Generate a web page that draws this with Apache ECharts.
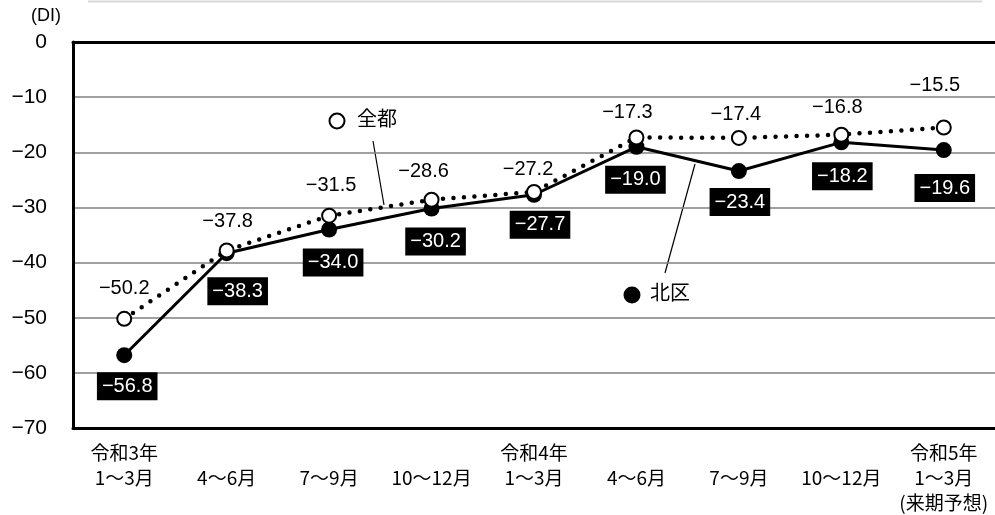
<!DOCTYPE html>
<html>
<head>
<meta charset="utf-8">
<script src="https://cdn.jsdelivr.net/npm/echarts@6/dist/echarts.min.js"></script>
<style>
  html, body { margin: 0; padding: 0; background: #fff; }
  #chart { width: 995px; height: 515px; }
</style>
</head>
<body>
<div id="chart"></div>
<script>
// Quarter labels along the bottom axis
const quarters = [
  '令和3年\n1～3月', '\n4～6月', '\n7～9月', '\n10～12月',
  '令和4年\n1～3月', '\n4～6月', '\n7～9月', '\n10～12月',
  '令和5年\n1～3月\n(来期予想)'
];
// DI values: Tokyo overall (全都) and Kita ward (北区)
const zento = [-50.2, -37.8, -31.5, -28.6, -27.2, -17.3, -17.4, -16.8, -15.5];
const kita  = [-56.8, -38.3, -34.0, -30.2, -27.7, -19.0, -23.4, -18.2, -19.6];
// Value axis ticks
const yMin = -70, yMax = 0, yStep = 10;

// Label nudges (pixels) so value labels avoid the lines
const zentoLabelShift = [[0,-30],[1,-29],[2,-30],[-8,-28],[-6,-23],[-9,-25],[-3,-23],[-4,-27],[-9,-42]];
const kitaLabelShift  = [[3,31],[11,38],[4,33],[4,33],[6,30],[-1,33],[1,31],[1,34],[1,38]];

const numFont = '"Liberation Sans", Arial, sans-serif';
const jpFont = '"Noto Sans CJK JP", sans-serif';
const fmt = v => String(v.toFixed(1)).replace('-', '\u2212');

const chart = echarts.init(document.getElementById('chart'), null, { renderer: 'canvas' });

chart.setOption({
  animation: false,
  backgroundColor: '#fff',
  grid: { left: 73, right: 0, top: 42, bottom: 87, containLabel: false },
  xAxis: [{
    type: 'category',
    data: quarters,
    position: 'bottom',
    boundaryGap: true,
    axisLine: { show: true, onZero: false, lineStyle: { color: '#000', width: 3 } },
    axisTick: { show: false },
    axisLabel: {
      interval: 0, margin: 12, color: '#000',
      fontFamily: jpFont, fontSize: 19, lineHeight: 25
    }
  }, {
    type: 'category',
    data: quarters,
    position: 'top',
    axisLine: { show: true, onZero: false, lineStyle: { color: '#000', width: 3 } },
    axisTick: { show: false },
    axisLabel: { show: false }
  }],
  yAxis: {
    type: 'value',
    min: yMin, max: yMax, interval: yStep,
    axisLine: { show: true, lineStyle: { color: '#000', width: 3 } },
    axisTick: { show: false },
    splitLine: { show: true, lineStyle: { color: '#808080', width: 1.5 } },
    axisLabel: {
      margin: 26, color: '#000', fontSize: 21,
      fontFamily: numFont,
      formatter: v => String(v).replace('-', '\u2212')
    }
  },
  series: [{
    name: '北区',
    type: 'line',
    data: kita.map((v, i) => ({
      value: v,
      label: { offset: kitaLabelShift[i] }
    })),
    symbol: 'circle',
    symbolSize: 16,
    itemStyle: { color: '#000', borderColor: '#000', borderWidth: 0 },
    lineStyle: { color: '#000', width: 3 },
    label: {
      show: true, position: 'inside',
      formatter: p => fmt(p.value),
      color: '#fff', backgroundColor: '#000',
      fontFamily: numFont, fontSize: 20,
      padding: [5, 5, 3, 5]
    },
    z: 2
  }, {
    name: '全都',
    type: 'line',
    data: zento.map((v, i) => ({
      value: v,
      label: { offset: zentoLabelShift[i] }
    })),
    symbol: 'circle',
    symbolSize: 14,
    itemStyle: { color: '#fff', borderColor: '#000', borderWidth: 2 },
    lineStyle: { color: '#000', width: 4.5, type: [0, 10.5], cap: 'round' },
    label: {
      show: true, position: 'inside',
      formatter: p => fmt(p.value),
      color: '#000',
      fontFamily: numFont, fontSize: 20
    },
    z: 3
  }],
  graphic: [
    // faint rule along the top edge
    { type: 'line', shape: { x1: 88, y1: 1.5, x2: 982, y2: 1.5 },
      style: { stroke: '#d9d9d9', lineWidth: 2 }, silent: true },
    // unit caption
    { type: 'text', left: 31, top: 7,
      style: { text: '(DI)', fontSize: 18, fill: '#000', fontFamily: numFont } },
    // 全都 callout
    { type: 'circle', shape: { cx: 337, cy: 121, r: 7.5 },
      style: { fill: '#fff', stroke: '#000', lineWidth: 2 } },
    { type: 'text', left: 357, top: 108,
      style: { text: '全都', fontSize: 20, fill: '#000', fontFamily: jpFont } },
    { type: 'line', shape: { x1: 373, y1: 141, x2: 384, y2: 205 },
      style: { stroke: '#000', lineWidth: 1.2 } },
    // 北区 callout
    { type: 'circle', shape: { cx: 632, cy: 295, r: 8.5 },
      style: { fill: '#000' } },
    { type: 'text', left: 650, top: 282,
      style: { text: '北区', fontSize: 20, fill: '#000', fontFamily: jpFont } },
    { type: 'line', shape: { x1: 695, y1: 164, x2: 665, y2: 273 },
      style: { stroke: '#000', lineWidth: 1.2 } }
  ]
});
</script>
</body>
</html>
